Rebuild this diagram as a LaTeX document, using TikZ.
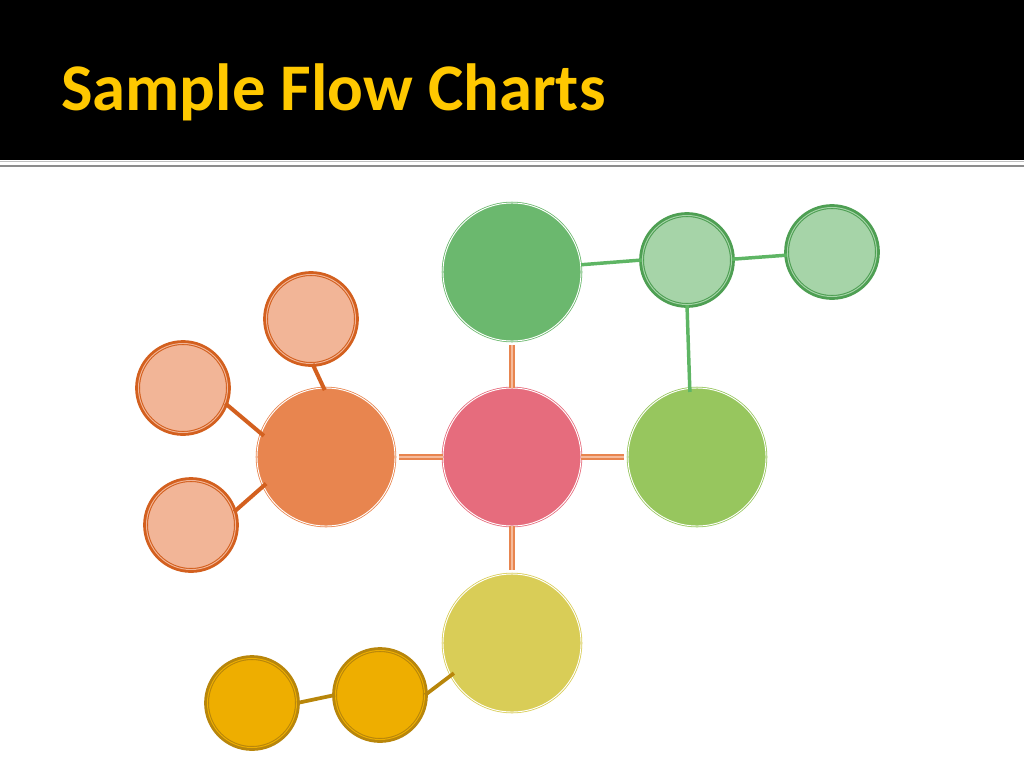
\documentclass[tikz,border=0pt]{standalone}
\usepackage{fontspec}
\setmainfont{Carlito}
\definecolor{titlegold}{HTML}{FFC800}
\definecolor{pinkc}{HTML}{E66C7D}
\definecolor{greenc}{HTML}{6BB86E}
\definecolor{orangec}{HTML}{E8854F}
\definecolor{limec}{HTML}{97C65E}
\definecolor{yellowc}{HTML}{D9CD57}
\definecolor{palegreen}{HTML}{A6D4A8}
\definecolor{darkgreen}{HTML}{4E9F53}
\definecolor{linegreen}{HTML}{5EB564}
\definecolor{paleorange}{HTML}{F2B597}
\definecolor{darkorange}{HTML}{D3601F}
\definecolor{goldc}{HTML}{EEAE00}
\definecolor{darkgold}{HTML}{B8860B}
\definecolor{orangecore}{HTML}{F5BB9C}

\begin{document}
\begin{tikzpicture}[x=0.75pt,y=-0.75pt,
   big/.style={circle,inner sep=0pt,minimum size=103.5pt,fill=#1,draw=#1,
      double=white,double distance=0.7pt,line width=0.6pt},
   small/.style 2 args={circle,inner sep=0pt,minimum size=66.8pt,fill=#1,draw=#2,
      double=#1,double distance=0.7pt,line width=0.8pt,
      preaction={draw=#2,line width=5pt}},
   hublink/.style={draw=orangec,double=orangecore,double distance=0.8pt,
      line width=1.5pt,shorten >=3pt},
   leaf/.style={draw=#1,line width=2.6pt}]
   \useasboundingbox (0,0) rectangle (1024,768);
   % header bar
   \fill[black] (0,0) rectangle (1024,160);
   \draw[black!25,line width=0.8pt] (0,161.5) -- (1024,161.5);
   \draw[black!45,line width=1.5pt] (0,166) -- (1024,166);
   \node (title) at (61,110) [anchor=base west,inner sep=0pt,text=titlegold,
      font=\fontsize{50}{52}\selectfont\bfseries] {Sample Flow Charts};
   % big circles
   \node (hub)  at (512,457) [big=pinkc] {};
   \node (gtop) at (512,272) [big=greenc] {};
   \node (obig) at (326,457) [big=orangec] {};
   \node (lime) at (697,457) [big=limec] {};
   \node (ybig) at (512,643) [big=yellowc] {};
   % small circles
   \node (gone) at (687,260) [small={palegreen}{darkgreen}] {};
   \node (gtwo) at (832,252) [small={palegreen}{darkgreen}] {};
   \node (otop) at (311,319) [small={paleorange}{darkorange}] {};
   \node (oleft) at (183,388) [small={paleorange}{darkorange}] {};
   \node (olow) at (191,525) [small={paleorange}{darkorange}] {};
   \node (ymid) at (380,695) [small={goldc}{darkgold}] {};
   \node (yend) at (252,703) [small={goldc}{darkgold}] {};
   % links from the hub
   \draw[hublink] (hub) -- (gtop);
   \draw[hublink] (hub) -- (obig);
   \draw[hublink] (hub) -- (lime);
   \draw[hublink] (hub) -- (ybig);
   % green branch
   \draw[leaf=linegreen] (gtop.6) -- (gone.180);
   \draw[leaf=linegreen] (gone.1) -- (gtwo.184);
   \draw[leaf=linegreen,shorten >=-3pt] (gone.-90) -- (lime.96);
   % orange branch
   \draw[leaf=darkorange,line width=3pt,shorten >=-2pt] (otop.-88) -- (obig.92);
   \draw[leaf=darkorange,line width=3pt,shorten >=-3pt] (oleft.-20) -- (obig.160);
   \draw[leaf=darkorange,line width=3pt,shorten >=-3pt] (olow.17) -- (obig.205);
   % gold branch
   \draw[leaf=darkgold,line width=2.8pt] (yend.0) -- (ymid.180);
   \draw[leaf=darkgold,line width=2.8pt,shorten >=-3pt] (ymid.0) -- (ybig.208);
\end{tikzpicture}
\end{document}
